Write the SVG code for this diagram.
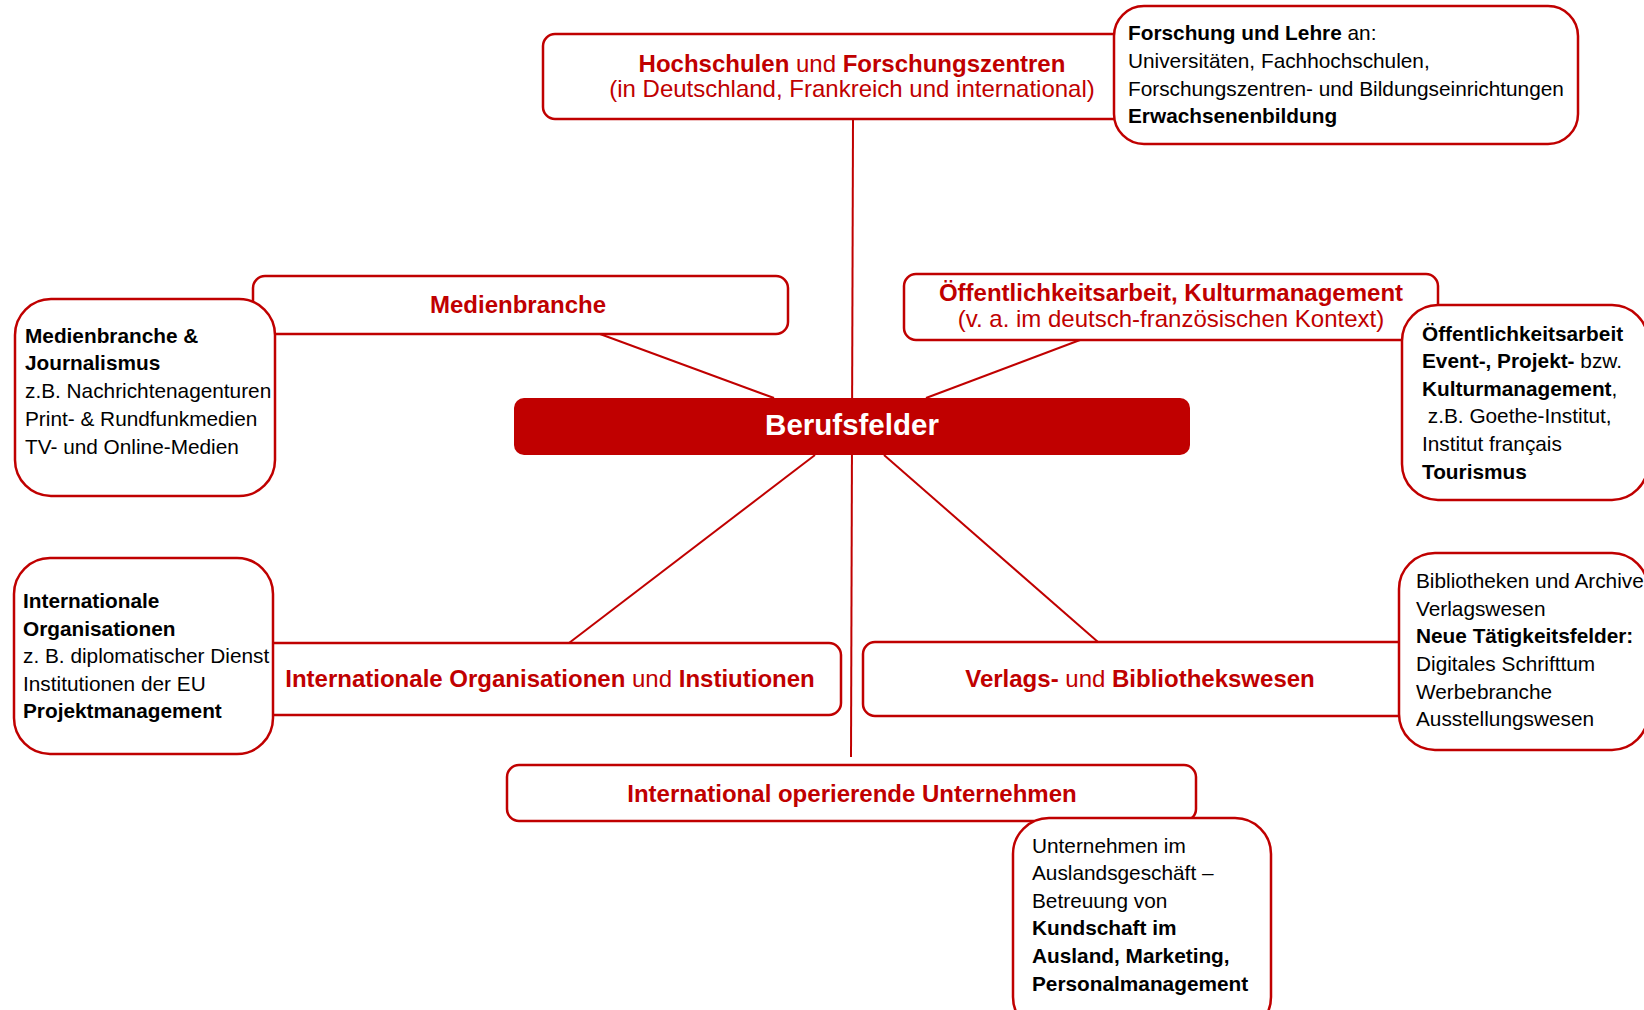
<svg xmlns="http://www.w3.org/2000/svg" width="1644" height="1010" viewBox="0 0 1644 1010">
<style>
  text { font-family: "Liberation Sans", Arial, sans-serif; }
  .title-box { fill: #FFFFFF; stroke: #C00000; stroke-width: 2.5; }
  .detail-box { fill: #FFFFFF; stroke: #C00000; stroke-width: 2.5; }
  .conn { stroke: #C00000; stroke-width: 2; fill: none; }
  .t { font-size: 24px; fill: #C00000; text-anchor: middle; }
  .d { font-size: 20.8px; fill: #000000; }
  .b { font-weight: bold; }
</style>
<rect width="1644" height="1010" fill="#FFFFFF"/>

<g id="connectors">
  <line class="conn" x1="853" y1="119" x2="851" y2="757"/>
  <line class="conn" x1="600" y1="334" x2="774" y2="398"/>
  <line class="conn" x1="1080" y1="340" x2="926" y2="398"/>
  <line class="conn" x1="815" y1="455" x2="569" y2="643"/>
  <line class="conn" x1="884" y1="455" x2="1098" y2="642"/>
</g>

<g id="node-hochschulen">
  <rect class="title-box" x="543" y="34" width="590" height="85" rx="12"/>
  <text class="t" x="852" y="72"><tspan class="b">Hochschulen</tspan> und <tspan class="b">Forschungszentren</tspan></text>
  <text class="t" x="852" y="97">(in Deutschland, Frankreich und international)</text>
</g>

<g id="node-medienbranche">
  <rect class="title-box" x="253" y="276" width="535" height="58" rx="12"/>
  <text class="t b" x="518" y="313">Medienbranche</text>
</g>

<g id="node-oeffentlichkeit">
  <rect class="title-box" x="904" y="274" width="534" height="66" rx="12"/>
  <text class="t" x="1171" y="301"><tspan class="b">Öffentlichkeitsarbeit, Kulturmanagement</tspan></text>
  <text class="t" x="1171" y="327">(v. a. im deutsch-französischen Kontext)</text>
</g>

<g id="node-intorg">
  <rect class="title-box" x="262" y="643" width="579" height="72" rx="12"/>
  <text class="t" x="550" y="687"><tspan class="b">Internationale Organisationen</tspan> und <tspan class="b">Instiutionen</tspan></text>
</g>

<g id="node-verlags">
  <rect class="title-box" x="863" y="642" width="560" height="74" rx="12"/>
  <text class="t" x="1140" y="687"><tspan class="b">Verlags-</tspan> und <tspan class="b">Bibliothekswesen</tspan></text>
</g>

<g id="node-unternehmen">
  <rect class="title-box" x="507" y="765" width="689" height="56" rx="12"/>
  <text class="t b" x="852" y="802">International operierende Unternehmen</text>
</g>

<g id="node-berufsfelder">
  <rect x="514" y="398" width="676" height="57" rx="10" fill="#C00000"/>
  <text x="852" y="435" font-size="29.5" font-weight="bold" fill="#FFFFFF" text-anchor="middle">Berufsfelder</text>
</g>

<g id="node-forschung-detail">
  <rect class="detail-box" x="1114" y="6" width="464" height="138" rx="30"/>
  <text class="d" x="1128" y="40"><tspan class="b">Forschung und Lehre</tspan> an:</text>
  <text class="d" x="1128" y="68">Universitäten, Fachhochschulen,</text>
  <text class="d" x="1128" y="96">Forschungszentren- und Bildungseinrichtungen</text>
  <text class="d b" x="1128" y="123">Erwachsenenbildung</text>
</g>

<g id="node-medien-detail">
  <rect class="detail-box" x="15" y="299" width="260" height="197" rx="36"/>
  <text class="d b" x="25" y="343">Medienbranche &amp;</text>
  <text class="d b" x="25" y="370">Journalismus</text>
  <text class="d" x="25" y="398">z.B. Nachrichtenagenturen</text>
  <text class="d" x="25" y="426">Print- &amp; Rundfunkmedien</text>
  <text class="d" x="25" y="454">TV- und Online-Medien</text>
</g>

<g id="node-oeffentlichkeit-detail">
  <rect class="detail-box" x="1402" y="305" width="246" height="195" rx="36"/>
  <text class="d b" x="1422" y="341">Öffentlichkeitsarbeit</text>
  <text class="d" x="1422" y="368"><tspan class="b">Event-, Projekt-</tspan> bzw.</text>
  <text class="d" x="1422" y="396"><tspan class="b">Kulturmanagement</tspan>,</text>
  <text class="d" x="1422" y="423" xml:space="preserve"> z.B. Goethe-Institut,</text>
  <text class="d" x="1422" y="451">Institut français</text>
  <text class="d b" x="1422" y="479">Tourismus</text>
</g>

<g id="node-intorg-detail">
  <rect class="detail-box" x="14" y="558" width="259" height="196" rx="36"/>
  <text class="d b" x="23" y="608">Internationale</text>
  <text class="d b" x="23" y="636">Organisationen</text>
  <text class="d" x="23" y="663">z. B. diplomatischer Dienst</text>
  <text class="d" x="23" y="691">Institutionen der EU</text>
  <text class="d b" x="23" y="718">Projektmanagement</text>
</g>

<g id="node-verlags-detail">
  <rect class="detail-box" x="1399" y="553" width="249" height="197" rx="36"/>
  <text class="d" x="1416" y="588">Bibliotheken und Archive</text>
  <text class="d" x="1416" y="616">Verlagswesen</text>
  <text class="d b" x="1416" y="643">Neue Tätigkeitsfelder:</text>
  <text class="d" x="1416" y="671">Digitales Schrifttum</text>
  <text class="d" x="1416" y="699">Werbebranche</text>
  <text class="d" x="1416" y="726">Ausstellungswesen</text>
</g>

<g id="node-unternehmen-detail">
  <rect class="detail-box" x="1013" y="818" width="258" height="215" rx="36"/>
  <text class="d" x="1032" y="853">Unternehmen im</text>
  <text class="d" x="1032" y="880">Auslandsgeschäft –</text>
  <text class="d" x="1032" y="908">Betreuung von</text>
  <text class="d b" x="1032" y="935">Kundschaft im</text>
  <text class="d b" x="1032" y="963">Ausland, Marketing,</text>
  <text class="d b" x="1032" y="991">Personalmanagement</text>
</g>
</svg>
